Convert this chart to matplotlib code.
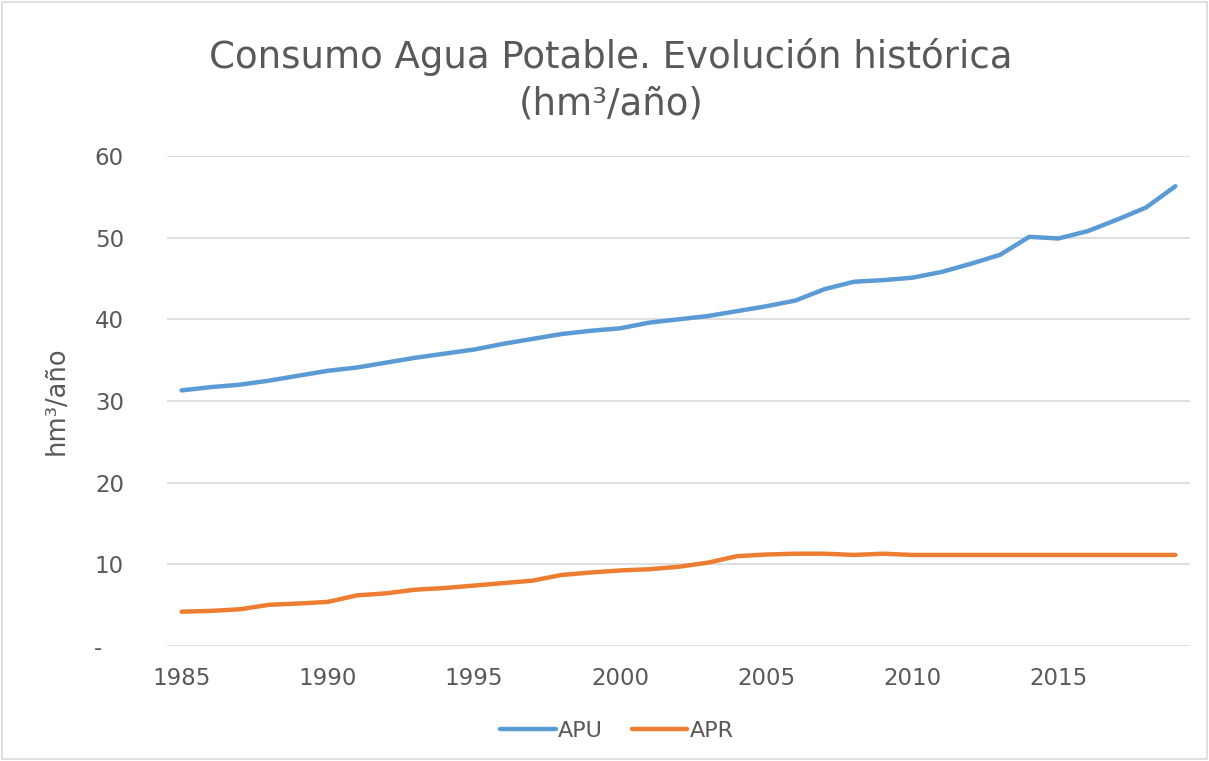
import numpy as np
import matplotlib
matplotlib.use("Agg")
import matplotlib.pyplot as plt
from matplotlib.patches import Rectangle

# Data (hm3/year)
years = list(range(1985, 2020))
apu = [31.3, 31.7, 32.0, 32.5, 33.1, 33.7, 34.1, 34.7, 35.3, 35.8, 36.3,
       37.0, 37.6, 38.2, 38.6, 38.9, 39.6, 40.0, 40.4, 41.0, 41.6,
       42.3, 43.7, 44.6, 44.8, 45.1, 45.8, 46.8, 47.9, 50.1, 49.9,
       50.8, 52.2, 53.7, 56.3]
apr = [4.2, 4.3, 4.5, 5.05, 5.2, 5.4, 6.2, 6.45, 6.9, 7.1, 7.4,
       7.7, 8.0, 8.7, 9.0, 9.25, 9.4, 9.7, 10.2, 11.0, 11.2,
       11.3, 11.3, 11.15, 11.3, 11.15, 11.15, 11.15, 11.15, 11.15, 11.15,
       11.15, 11.15, 11.15, 11.15]
yticks = [0, 10, 20, 30, 40, 50, 60]
# Excel accounting style: the zero dash sits a bit left of the digits
ytick_labels = ["- \u2007", "10", "20", "30", "40", "50", "60"]
xticks = [1985, 1990, 1995, 2000, 2005, 2010, 2015]

GREY = "#595959"
GRID = "#d9d9d9"

plt.rcParams['font.family'] = ['DejaVu Sans']

fig = plt.figure(figsize=(12.09, 7.61), dpi=100)
ax = fig.add_axes([167 / 1209, 1 - 646 / 761, 1023 / 1209, 490 / 761])

ax.plot(years, apu, color="#5B9BD5", lw=3.2, solid_capstyle="round", label="APU")
ax.plot(years, apr, color="#ED7D31", lw=3.2, solid_capstyle="round", label="APR")

ax.set_xlim(1984.5, 2019.5)
ax.set_ylim(0, 60)
ax.set_yticks(yticks)
ax.set_yticklabels(ytick_labels)
ax.set_xticks(xticks)
ax.yaxis.grid(True, color=GRID, lw=1.2)
ax.set_axisbelow(True)
for s in ax.spines.values():
    s.set_visible(False)
ax.tick_params(axis="both", length=0, labelsize=16.5, labelcolor=GREY)
ax.tick_params(axis="y", pad=31)
ax.tick_params(axis="x", pad=15)

ax.set_ylabel("hm³/año", fontsize=18.5, color=GREY)
ax.yaxis.set_label_coords(-0.095, 0.5)

fig.text(611 / 1209, 1 - 57 / 761, "Consumo Agua Potable. Evolución histórica",
         ha="center", va="center", fontsize=26.7, color=GREY)
fig.text(611 / 1209, 1 - 104 / 761, "(hm³/año)",
         ha="center", va="center", fontsize=26.7, color=GREY)

fig.legend(loc="center", bbox_to_anchor=(617 / 1209, 1 - 731 / 761), ncol=2,
           frameon=False, fontsize=16, labelcolor=GREY, handlelength=2.5,
           handletextpad=0.1, columnspacing=1.3)

# light chart-area border
fig.patches.append(Rectangle((0.002, 0.003), 0.996, 0.994, transform=fig.transFigure,
                             fill=False, edgecolor=GRID, lw=1.2))

fig.savefig("out.png", dpi=100)
